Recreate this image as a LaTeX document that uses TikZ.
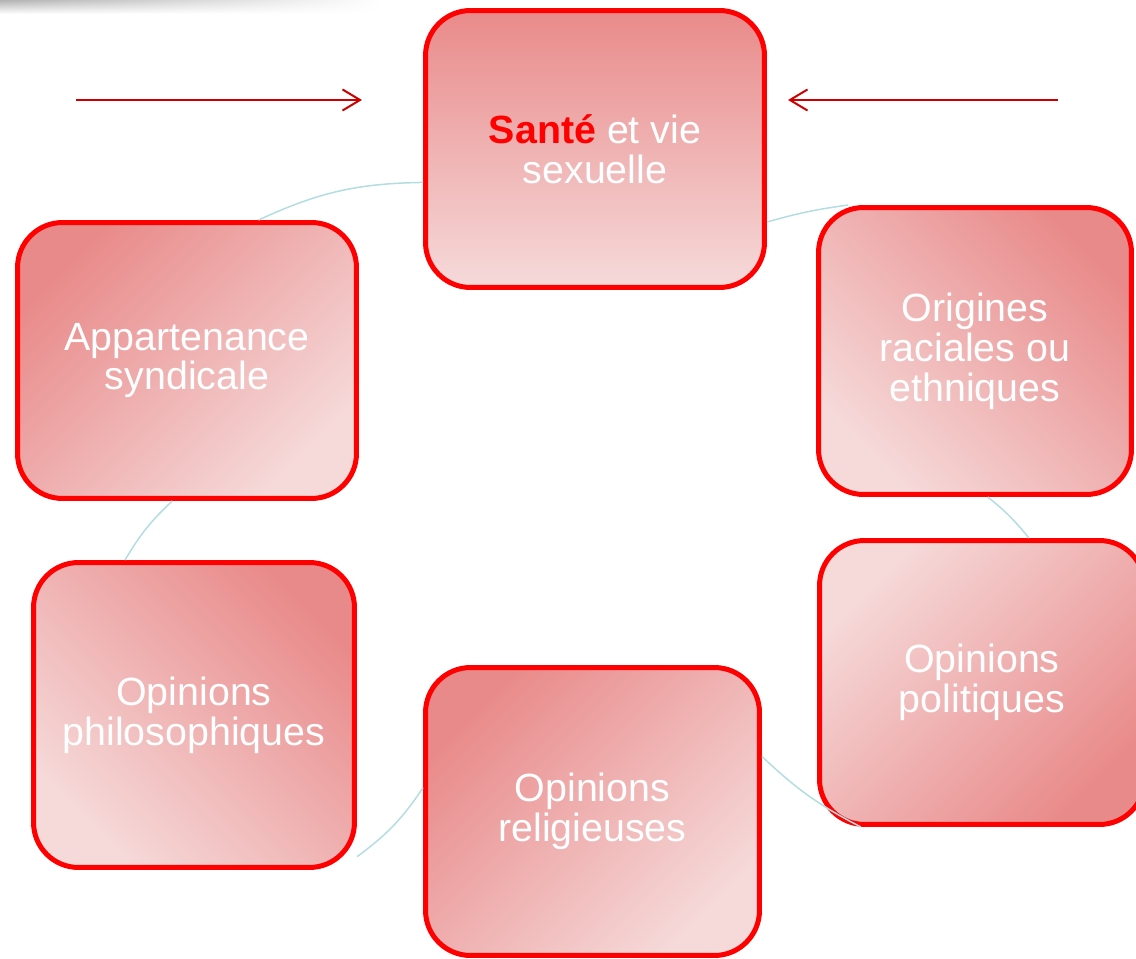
\documentclass[tikz,border=0pt]{standalone}
\usepackage{fontspec}
\setmainfont{Liberation Sans}
\usepackage{xcolor}
\usetikzlibrary{arrows.meta, fadings}

\definecolor{darkpink}{RGB}{233,138,138}
\definecolor{lightpink}{RGB}{246,218,218}
\definecolor{arrowred}{RGB}{204,0,0}
\definecolor{linkblue}{RGB}{180,221,226}

\begin{document}
\begin{tikzpicture}[
    x=0.02cm, y=-0.02cm,
    cell/.style={
        rectangle,
        rounded corners=0.9cm,
        draw=red,
        line width=0.1cm,
        text=white,
        align=center,
        font=\fontsize{22.4pt}{22.7pt}\selectfont
    },
    fade/.style={top color=darkpink, bottom color=lightpink, shading angle=#1},
    arrow/.style={-{Straight Barb[length=10pt, width=12pt, line width=0.04cm]}, line width=0.04cm, arrowred},
    link/.style={linkblue, line width=0.03cm}
]
\useasboundingbox (0,0) rectangle (1136,959);

% faint shadow in the corner
\shade[top color=black!30, bottom color=white, path fading=east] (0,0) rectangle (380,14);

\node[cell, fade=0, minimum width=6.78cm, minimum height=5.54cm] (sante) at (595,149)
    {\textcolor{red}{\textbf{Santé}} et vie\\sexuelle};
\node[cell, fade=-45, minimum width=6.26cm, minimum height=5.74cm] (origines) at (975,351)
    {Origines\\raciales ou\\ethniques};
\node[cell, fade=-135, minimum width=6.5cm, minimum height=5.68cm] (politiques) at (982,682.5)
    {Opinions\\politiques};
\node[cell, fade=45, minimum width=6.68cm, minimum height=5.76cm] (religieuses) at (592.5,811.5)
    {Opinions\\religieuses};
\node[cell, fade=-45, minimum width=6.42cm, minimum height=6.1cm] (philo) at (194,715)
    {Opinions\\philosophiques};
\node[cell, fade=45, minimum width=6.78cm, minimum height=5.52cm] (syndicale) at (187,360.5)
    {Appartenance\\syndicale};

% cycle links
\draw[link] (syndicale.63) to[bend left=12] (sante.191);
\draw[link] (sante.337) to[bend left=4] (origines.131);
\draw[link] (origines.275) to[bend left=6] (politiques.72);
\draw[link] (politiques.230) to[bend left=8] (religieuses.18);
\draw[link] (religieuses.172) to[bend left=10] (philo.319);
\draw[link] (philo.114) to[bend left=8] (syndicale.264);

% arrows pointing to the first box
\coordinate (leftstart) at (76,100);
\coordinate (leftend) at (362,100);
\coordinate (rightstart) at (1058,100);
\coordinate (rightend) at (788,100);
\draw[arrow] (leftstart) -- (leftend);
\draw[arrow] (rightstart) -- (rightend);

\end{tikzpicture}
\end{document}
